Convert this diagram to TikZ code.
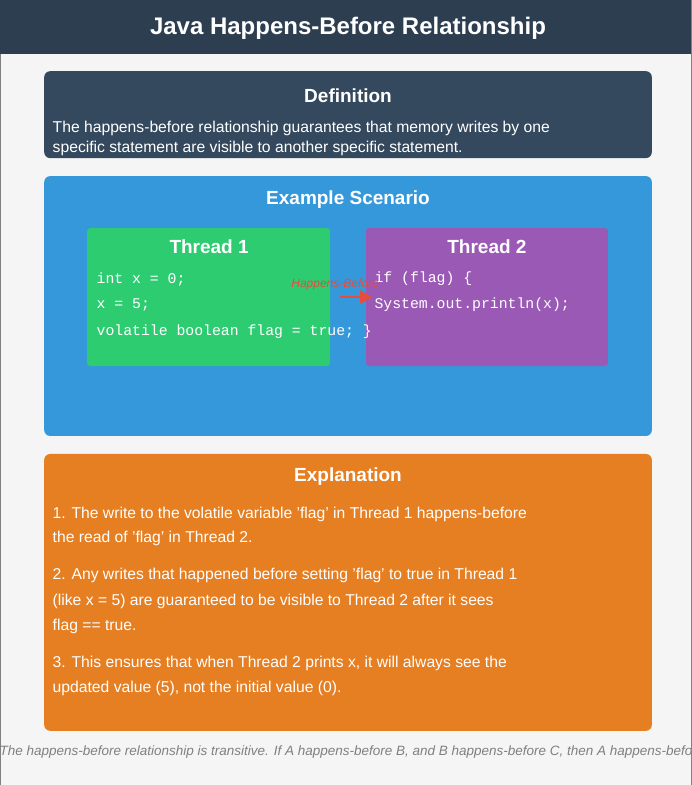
\documentclass[tikz,border=0pt]{standalone}
\usepackage{fontspec}
\setmainfont{Liberation Sans}
\setmonofont{Liberation Mono}
\usetikzlibrary{arrows.meta}
\definecolor{hdr}{HTML}{2C3E50}
\definecolor{defc}{HTML}{34495E}
\definecolor{exc}{HTML}{3498DB}
\definecolor{t1c}{HTML}{2ECC71}
\definecolor{t2c}{HTML}{9B59B6}
\definecolor{expc}{HTML}{E67E22}
\definecolor{redc}{HTML}{E74C3C}
\definecolor{bgc}{HTML}{F5F5F5}
\begin{document}
\begin{tikzpicture}[x=1pt,y=-1pt,
  panel/.style={rounded corners=6pt,draw=none},
  ttl/.style={text=white,font=\bfseries\fontsize{19}{21}\selectfont},
  body/.style={text=white,anchor=west,font=\fontsize{15.7}{18}\selectfont},
  code/.style={text=white,anchor=west,font=\ttfamily\fontsize{14.8}{17}\selectfont}]
\path[use as bounding box,fill=bgc,draw=gray] (0,0) rectangle (691,785);
\fill[hdr] (0,0) rectangle (691,54);
\node[text=white,font=\bfseries\fontsize{24}{28}\selectfont] (title) at (348,28) {Java Happens-Before Relationship};
\fill[panel,defc] (44,71) rectangle (652,158);
\node[ttl] (dt) at (348,96) {Definition};
\node[body] (d1) at (49,128) {The happens-before relationship guarantees that memory writes by one};
\node[body] (d2) at (49,148) {specific statement are visible to another specific statement.};
\fill[panel,exc] (44,176) rectangle (652,436);
\node[ttl] (et) at (348,199) {Example Scenario};
\fill[panel,t1c,rounded corners=3pt] (87,228) rectangle (330,366);
\fill[panel,t2c,rounded corners=3pt] (366,228) rectangle (608,366);
\node[ttl] (t1) at (209,247) {Thread 1};
\node[code] (c1) at (93,279) {int x = 0;};
\node[code] (c2) at (93,305) {x = 5;};
\node[code] (c3) at (93,332) {volatile boolean flag = true; \}};
\node[ttl] (t2) at (487,247) {Thread 2};
\node[code] (c4) at (371,279) {if (flag) \{};
\node[code] (c5) at (371,305) {System.out.println(x);};
\coordinate (as) at (340,297);
\coordinate (ae) at (372,297);
\draw[redc,line width=2.5pt,-{Triangle[length=12pt,width=13pt]}] (as) -- (ae);
\node[text=redc,font=\itshape\fontsize{12}{14}\selectfont] (hb) at (335,284) {Happens-Before};
\fill[panel,expc] (44,454) rectangle (652,731);
\node[ttl] (xt) at (348,477) {Explanation};
\node[body] (e1) at (49,514) {1. The write to the volatile variable 'flag' in Thread 1 happens-before};
\node[body] (e2) at (49,539) {the read of 'flag' in Thread 2.};
\node[body] (e3) at (49,576) {2. Any writes that happened before setting 'flag' to true in Thread 1};
\node[body] (e4) at (49,602) {(like x = 5) are guaranteed to be visible to Thread 2 after it sees};
\node[body] (e5) at (49,627) {flag == true.};
\node[body] (e6) at (49,664) {3. This ensures that when Thread 2 prints x, it will always see the};
\node[body] (e7) at (49,689) {updated value (5), not the initial value (0).};
\node[text=gray,anchor=west,font=\itshape\fontsize{13.5}{16}\selectfont] (ft) at (-4,752) {The happens-before relationship is transitive. If A happens-before B, and B happens-before C, then A happens-before C.};
\end{tikzpicture}
\end{document}
